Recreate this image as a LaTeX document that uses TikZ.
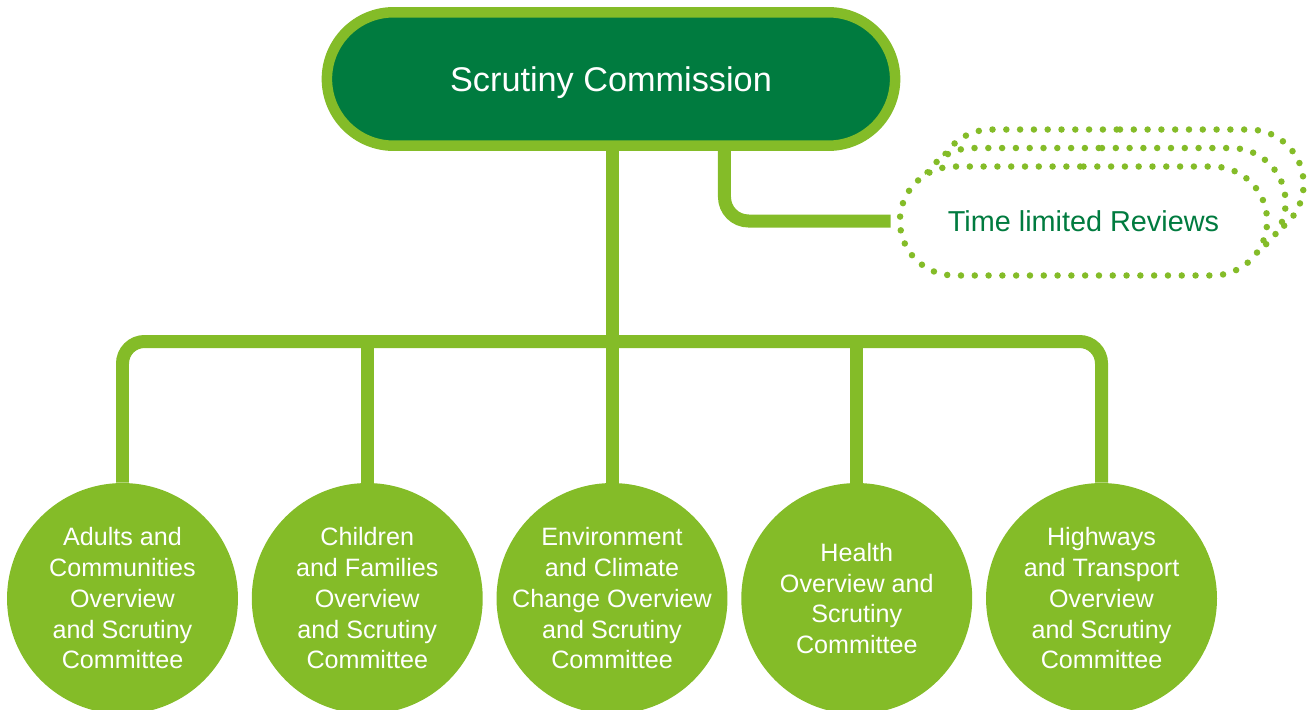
\documentclass[tikz,border=0pt]{standalone}
\usepackage{fontspec}
\setmainfont{Liberation Sans}
\usetikzlibrary{positioning,shapes.misc}
\definecolor{lcgreen}{RGB}{132,188,40}
\definecolor{lcdark}{RGB}{0,123,63}

\tikzset{
  link/.style={draw=lcgreen, line width=0.26cm},
  commbox/.style={rounded rectangle, draw=lcgreen, line width=0.21cm, fill=lcdark, text=white,
    minimum width=11.6cm, minimum height=2.67cm, text depth=0pt, font=\fontsize{19.5}{23}\selectfont},
  ctee/.style={circle, fill=lcgreen, text=white, minimum size=4.62cm, inner sep=-0.8cm,
    align=center, font=\fontsize{14.3}{17.5}\selectfont},
  review/.style={rounded rectangle, draw=lcgreen, fill=white, line width=0.13cm, line cap=round,
    dash pattern=on 0pt off 0.276cm, minimum width=7.58cm, minimum height=2.18cm,
    text=lcdark, font=\fontsize{16.4}{19}\selectfont},
}

\begin{document}
\begin{tikzpicture}[x=0.02cm, y=-0.02cm, node distance=0.262cm]
  \useasboundingbox (0,0) rectangle (1309,710);

  \node (commission) [commbox] at (611,79) {Scrutiny Commission};

  % stacked reviews
  \node (reviews3) [review] at (1120,184) {};
  \node (reviews2) [review] at (1102,202.5) {};
  \node (reviews) [review] at (1083.5,221) {Time limited Reviews};

  % committees
  \node (adults) [ctee] at (122.5,598.5) {Adults and\\Communities\\Overview\\and Scrutiny\\Committee};
  \node (children) [ctee, right=of adults] {Children\\and Families\\Overview\\and Scrutiny\\Committee};
  \node (environment) [ctee, right=of children] {Environment\\and Climate\\Change Overview\\and Scrutiny\\Committee};
  \node (health) [ctee, right=of environment] {Health\\Overview and\\Scrutiny\\Committee};
  \node (highways) [ctee, right=of health] {Highways\\and Transport\\Overview\\and Scrutiny\\Committee};

  \coordinate (bus) at (environment.north |- 0,341.5);

  \path[link]
    (environment.north |- commission.south) edge (environment.north)
    (children.north) edge (children.north |- bus)
    (health.north) edge (health.north |- bus);
  \draw[link, rounded corners=0.44cm] (adults.north) |- (bus) -| (highways.north);
  \draw[link, rounded corners=0.48cm, shorten >=0.12cm] ([xshift=2.27cm]commission.south) |- (reviews.west);
\end{tikzpicture}
\end{document}
